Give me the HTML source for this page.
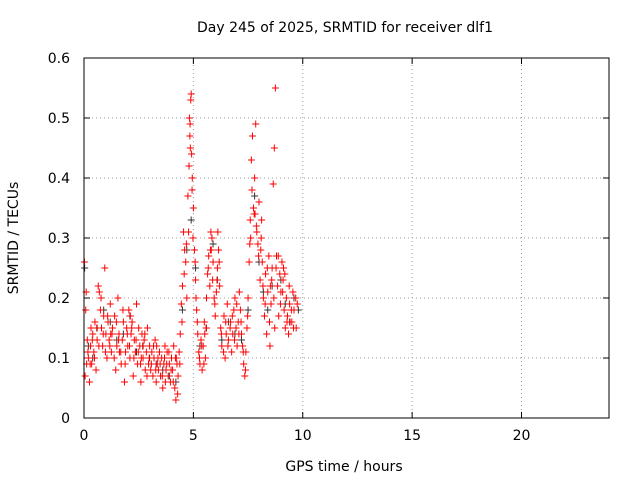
<!DOCTYPE html>
<html><head><meta charset="utf-8"><style>
html,body{margin:0;padding:0;background:#fff;}
svg{display:block;font-family:"DejaVu Sans","Liberation Sans",sans-serif;}
</style></head><body>
<svg id="chart" width="640" height="480">
<text x="345" y="32" font-size="14" text-anchor="middle">Day 245 of 2025, SRMTID for receiver dlf1</text>
<text x="344" y="471" font-size="14" text-anchor="middle">GPS time / hours</text>
<text x="18" y="238" font-size="14" text-anchor="middle" transform="rotate(-90 18 238)">SRMTID / TECUs</text>
<g id="grid"></g>
<g id="ticks"></g>
<g id="black"></g>
<g id="red"></g>
<rect x="84" y="58" width="525" height="360" fill="none" stroke="#000" stroke-width="1"/>
</svg>
<script>
const xTicks=[0,5,10,15,20];
const yTicks=[0,0.1,0.2,0.3,0.4,0.5,0.6];
const yTickLabels=["0","0.1","0.2","0.3","0.4","0.5","0.6"];
const redT=[0.02,0.05,0.1,0.15,0.2,0.25,0.3,0.35,0.4,0.45,0.5,0.55,0.6,0.7,0.75,0.8,0.85,0.9,0.95,1.0,
1.05,1.1,1.15,1.2,1.25,1.3,1.4,1.45,1.5,1.55,1.6,1.7,1.75,1.8,1.85,1.9,1.95,2.0,
2.05,2.1,2.15,2.2,2.25,2.3,2.35,2.4,2.45,2.5,2.55,2.6,2.65,2.7,2.75,2.8,2.85,2.9,2.95,3.0,
3.05,3.1,3.15,3.2,3.25,3.3,3.35,3.4,3.45,3.5,3.55,3.6,3.65,3.7,3.75,3.8,3.85,3.9,3.95,4.0,
4.05,4.1,4.15,4.2,4.25,4.3,4.35,4.4,4.45,4.5,4.55,4.6,4.65,4.7,4.75,4.8,4.85,4.88,4.9,4.92,4.95,5.0,
5.05,5.1,5.15,5.2,5.25,5.3,5.35,5.4,5.45,5.5,5.55,5.6,5.65,5.7,5.75,5.8,5.85,5.9,5.95,6.0,
6.05,6.1,6.15,6.2,6.25,6.3,6.4,6.45,6.5,6.55,6.6,6.7,6.75,6.8,6.85,6.9,6.95,7.0,
7.05,7.1,7.15,7.2,7.25,7.3,7.35,7.4,7.45,7.5,7.55,7.6,7.65,7.7,7.75,7.8,7.85,7.9,7.95,8.0,
8.05,8.1,8.15,8.2,8.25,8.3,8.35,8.4,8.45,8.5,8.55,8.6,8.65,8.7,8.75,8.8,8.85,8.9,8.95,9.0,
9.05,9.1,9.15,9.2,9.25,9.3,9.35,9.4,9.5,9.55,9.6,9.7,9.75,
0.12,0.32,0.65,1.22,1.62,2.12,2.62,3.32,3.72,4.22,4.82,4.86,5.12,5.52,5.82,6.12,7.62,7.82,8.12,8.52,8.72,9.12,9.42];
const redV=[0.26,0.07,0.21,0.13,0.10,0.06,0.12,0.09,0.14,0.11,0.16,0.08,0.13,0.21,0.18,0.15,0.12,0.17,0.25,0.14,
0.10,0.16,0.13,0.19,0.11,0.15,0.17,0.08,0.12,0.20,0.14,0.09,0.13,0.16,0.06,0.11,0.15,0.12,
0.18,0.10,0.14,0.16,0.07,0.13,0.11,0.19,0.09,0.15,0.12,0.06,0.14,0.10,0.13,0.08,0.11,0.15,0.09,0.12,
0.08,0.11,0.07,0.10,0.13,0.06,0.09,0.08,0.11,0.07,0.10,0.05,0.09,0.12,0.08,0.11,0.07,0.09,0.06,0.10,
0.08,0.12,0.05,0.03,0.09,0.07,0.11,0.14,0.19,0.22,0.31,0.28,0.26,0.20,0.37,0.42,0.49,0.53,0.54,0.44,0.40,0.35,
0.28,0.23,0.18,0.14,0.11,0.09,0.13,0.08,0.12,0.16,0.10,0.20,0.24,0.27,0.22,0.31,0.30,0.26,0.20,0.17,
0.21,0.25,0.28,0.22,0.15,0.12,0.17,0.10,0.14,0.19,0.13,0.16,0.11,0.14,0.18,0.20,0.15,0.12,
0.16,0.21,0.18,0.14,0.12,0.09,0.07,0.11,0.15,0.20,0.26,0.33,0.43,0.47,0.35,0.40,0.49,0.31,0.29,0.36,
0.23,0.30,0.26,0.20,0.17,0.24,0.14,0.21,0.27,0.12,0.19,0.25,0.39,0.45,0.55,0.27,0.22,0.17,0.24,0.21,
0.26,0.23,0.18,0.15,0.20,0.17,0.14,0.19,0.16,0.21,0.18,0.15,0.19,
0.09,0.15,0.22,0.14,0.11,0.17,0.10,0.12,0.06,0.10,0.50,0.45,0.20,0.14,0.28,0.31,0.30,0.34,0.33,0.22,0.15,0.25,0.16];
const redT2=[0.08,0.18,0.28,0.38,0.48,0.58,0.68,0.78,0.88,0.98,
1.08,1.18,1.28,1.38,1.48,1.58,1.68,1.78,1.88,1.98,
2.08,2.18,2.28,2.38,2.48,2.58,2.68,2.78,2.88,2.98,
3.08,3.18,3.28,3.38,3.48,3.58,3.68,3.78,3.88,3.98,
4.08,4.18,4.28,4.38,4.48,4.58,4.68,4.78,4.84,4.94,4.98,
5.08,5.18,5.28,5.38,5.48,5.58,5.68,5.78,5.88,5.98,
6.08,6.18,6.28,6.38,6.48,6.58,6.68,6.78,6.88,6.98,
7.08,7.18,7.28,7.38,7.48,7.58,7.68,7.78,7.88,7.98,
8.08,8.18,8.28,8.38,8.48,8.58,8.68,8.78,8.88,8.98,
9.08,9.18,9.28,9.38,9.48,9.58,9.68];
const redV2=[0.18,0.11,0.09,0.13,0.10,0.15,0.12,0.20,0.14,0.11,
0.17,0.12,0.14,0.10,0.16,0.13,0.11,0.18,0.09,0.14,
0.12,0.15,0.10,0.13,0.11,0.09,0.12,0.14,0.07,0.10,
0.09,0.12,0.08,0.10,0.09,0.07,0.10,0.09,0.11,0.08,
0.06,0.10,0.04,0.09,0.16,0.24,0.29,0.31,0.47,0.38,0.30,
0.26,0.16,0.10,0.12,0.09,0.15,0.25,0.28,0.23,0.19,
0.23,0.26,0.14,0.11,0.16,0.12,0.15,0.17,0.13,0.19,
0.14,0.16,0.11,0.08,0.17,0.29,0.38,0.34,0.32,0.27,
0.28,0.22,0.19,0.25,0.16,0.23,0.20,0.25,0.27,0.19,
0.21,0.24,0.16,0.22,0.18,0.15,0.20];
const blackT=[0.03,0.2,0.4,0.6,0.9,1.2,1.5,1.8,2.1,2.4,2.7,3.0,3.3,3.6,3.9,4.2,4.5,4.7,4.9,5.1,5.3,5.6,5.9,6.1,6.3,6.6,6.9,7.2,7.5,7.8,8.0,8.2,8.4,8.6,8.8,9.0,9.2,9.4,9.6,9.8];
const blackV=[0.25,0.12,0.10,0.15,0.18,0.16,0.13,0.14,0.17,0.11,0.12,0.10,0.09,0.08,0.07,0.06,0.18,0.28,0.33,0.25,0.12,0.15,0.29,0.23,0.13,0.16,0.14,0.13,0.18,0.37,0.26,0.21,0.18,0.22,0.27,0.23,0.19,0.16,0.20,0.18];

const X0=84,X1=609,Y0=418,Y1=58;
const xs=t=>X0+t/24*(X1-X0);
const ys=v=>Y0-v/0.6*(Y0-Y1);
const NS="http://www.w3.org/2000/svg";
function mk(tag,attrs,parent){const e=document.createElementNS(NS,tag);for(const k in attrs)e.setAttribute(k,attrs[k]);parent.appendChild(e);return e;}
const grid=document.getElementById('grid'),ticks=document.getElementById('ticks');
xTicks.forEach(t=>{
  const x=xs(t);
  if(t>0){const g=mk('line',{x1:x,x2:x,y1:Y0,y2:Y1,stroke:'#a0a0a0','stroke-dasharray':'1,3'},grid);
  
  }
  mk('line',{x1:x,x2:x,y1:Y0,y2:Y0-6,stroke:'#000'},ticks);
  mk('line',{x1:x,x2:x,y1:Y1,y2:Y1+6,stroke:'#000'},ticks);
  const l=mk('text',{x:x,y:Y0+22,'font-size':14,'text-anchor':'middle'},ticks);
  l.textContent=t;
  
  
});
yTicks.forEach((v,i)=>{
  const y=ys(v);
  if(v>0&&v<0.6){const g=mk('line',{x1:X0,x2:X1,y1:y,y2:y,stroke:'#a0a0a0','stroke-dasharray':'1,3'},grid);
  
  }
  mk('line',{x1:X0,x2:X0+6,y1:y,y2:y,stroke:'#000'},ticks);
  mk('line',{x1:X1,x2:X1-6,y1:y,y2:y,stroke:'#000'},ticks);
  const l=mk('text',{x:X0-14,y:y+5,'font-size':14,'text-anchor':'end'},ticks);
  l.textContent=yTickLabels[i];
  
  
});
function plus(parent,t,v,color){
  const x=xs(t),y=ys(v);
  const p=mk('path',{d:`M${x-3.5},${y}H${x+3.5}M${x},${y-3.5}V${y+3.5}`,stroke:color,'stroke-width':1,fill:'none'},parent);
  
  
}
const bg=document.getElementById('black'),rg=document.getElementById('red');
blackT.forEach((t,i)=>plus(bg,t,blackV[i],'#333'));
redT.forEach((t,i)=>plus(rg,t,redV[i],'#ff0000'));
redT2.forEach((t,i)=>plus(rg,t,redV2[i],'#ff0000'));
</script>
</body></html>
